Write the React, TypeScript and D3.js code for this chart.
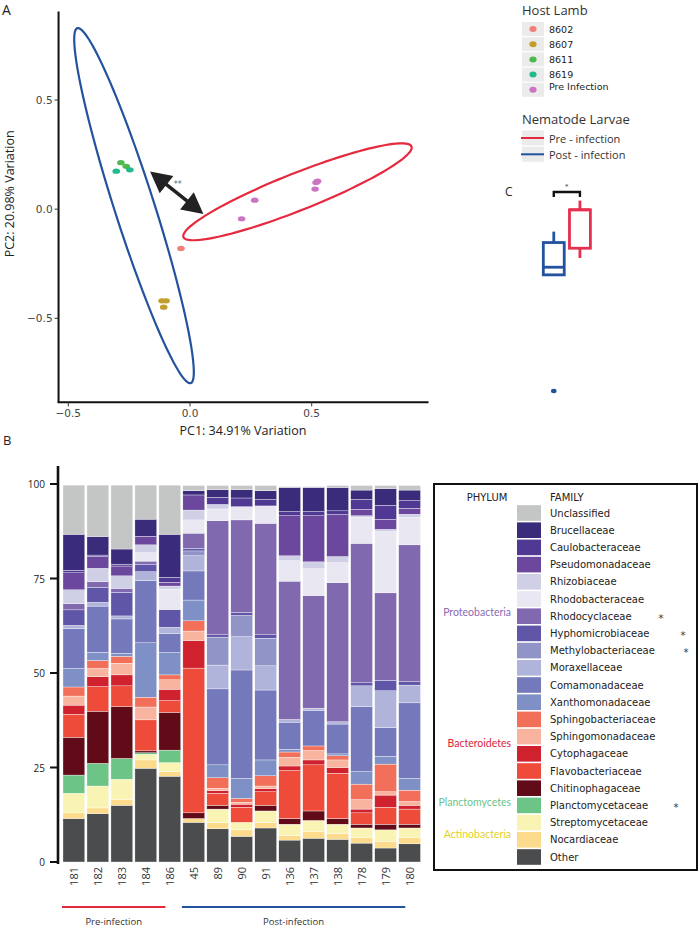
import React from "react";
import * as d3 from "d3";

const W = 698;
const H = 932;
const SANS = "'Open Sans', 'Noto Sans', sans-serif";
const VERD = "'DejaVu Sans', sans-serif";
const NARROW = "Lato, 'Open Sans', sans-serif";

// ---------- Panel A: PCA ----------
const hostLambs = ["8602", "8607", "8611", "8619", "Pre Infection"];
const hostColors = ["#f27f78", "#c39d2e", "#4db94c", "#22b98c", "#cc73c1"];
const pcaHost = ["8602", "8607", "8607", "8607", "8611", "8611", "8619", "8619", "Pre Infection", "Pre Infection", "Pre Infection", "Pre Infection", "Pre Infection"];
const pcaPC1 = [-0.037, -0.115, -0.098, -0.108, -0.284, -0.262, -0.303, -0.247, 0.212, 0.266, 0.514, 0.518, 0.524];
const pcaPC2 = [-0.18, -0.42, -0.42, -0.449, 0.213, 0.196, 0.174, 0.18, -0.044, 0.041, 0.092, 0.122, 0.128];
const pcaXTicks = [-0.5, 0, 0.5];
const pcaYTicks = [-0.5, 0, 0.5];
const pcaXDomain = [-0.54, 0.98];
const pcaYDomain = [-0.885, 0.905];

const larvaeGroups = ["Pre - infection", "Post - infection"];
const larvaeColors = ["#e5293f", "#23529f"];
const ellipseCenterX = [0.4415, -0.23];
const ellipseCenterY = [0.0795, 0.016];
const ellipseMajorX = [0.4685, -0.233];
const ellipseMajorY = [0.2075, 0.813];
const ellipseMinorX = [0.028, 0.078];
const ellipseMinorY = [-0.079, 0.028];
const arrowFrom = [-0.164, 0.172];
const arrowTo = [0.055, -0.022];

// ---------- Panel C: boxplot ----------
const boxGroups = ["Post - infection", "Pre - infection"];
const boxColors = ["#23529f", "#e5304f"];
const boxWhiskerHi = [-0.103, 0.039];
const boxQ3 = [-0.153, -0.003];
const boxMedian = [-0.266, -0.003];
const boxQ1 = [-0.301, -0.179];
const boxWhiskerLo = [-0.301, -0.224];
const boxOutliers = [-0.833, null];

// ---------- Panel B: stacked bars ----------
const samples = ["181", "182", "183", "184", "186", "45", "89", "90", "91", "136", "137", "138", "178", "179", "180"];
const sampleGroups = ["Pre-infection", "Post-infection"];
const groupColors = ["#e5293f", "#23529f"];
const groupFirst = ["181", "45"];
const groupLast = ["186", "180"];
const barTicks = [0, 25, 50, 75, 100];

const unclassified = [13.0, 13.6, 16.9, 9.0, 13.0, 1.4, 1.1, 1.1, 1.4, 0.2, 0.2, 0.5, 1.2, 0.8, 1.2];
const brucellaceae = [9.5, 4.9, 4.0, 4.5, 11.4, 1.1, 2.0, 2.2, 2.3, 6.4, 6.4, 6.2, 2.5, 4.4, 2.8];
const caulobacteraceae = [0.7, 0.4, 0.5, 0, 1.3, 0, 1.9, 2.3, 1.7, 1.1, 1.1, 1.0, 2.6, 3.7, 2.0];
const pseudomonadaceae = [4.5, 3.1, 2.6, 2.3, 1.0, 4.0, 0, 0, 0, 10.6, 12.2, 11.1, 1.7, 2.7, 1.6];
const rhizobiaceae = [3.7, 3.5, 3.3, 2.1, 0.8, 2.6, 1.2, 0, 0, 1.3, 1.8, 1.6, 0.4, 0.6, 0.8];
const rhodobacteraceae = [0, 0, 0, 2.2, 5.4, 3.5, 3.1, 3.5, 4.6, 5.4, 7.1, 5.3, 6.9, 16.2, 7.3];
const rhodocyclaceae = [1.6, 1.5, 1.1, 0.8, 0, 4.0, 30.2, 24.5, 29.5, 36.6, 29.8, 36.8, 36.9, 23.1, 36.2];
const hyphomicrobiaceae = [4.1, 4.0, 6.2, 2.0, 4.7, 0.7, 0.6, 0.8, 0.9, 0, 0, 0, 0.8, 2.8, 0.9];
const methylobacteriaceae = [0, 0, 0, 0, 0, 1.3, 7.4, 5.6, 7.3, 0, 0, 0, 0, 0, 0];
const moraxellaceae = [0.9, 1.0, 0.8, 2.4, 1.6, 4.0, 6.3, 8.8, 6.4, 0.7, 0.7, 0.6, 5.5, 9.7, 4.7];
const comamonadaceae = [10.5, 12.2, 9.1, 16.4, 5.1, 7.7, 20.1, 28.7, 18.5, 7.2, 9.3, 7.9, 17.2, 7.6, 20.0];
const xanthomonadaceae = [4.9, 2.2, 0.8, 14.4, 5.9, 5.5, 3.4, 5.3, 4.2, 0.7, 0, 0.5, 3.3, 2.1, 3.1];
const sphingobacteriaceae = [2.4, 2.1, 1.8, 2.6, 1.3, 2.7, 2.8, 1.0, 2.7, 1.4, 1.2, 1.1, 4.1, 7.3, 3.0];
const sphingomonadaceae = [2.4, 2.2, 3.1, 3.4, 2.5, 2.5, 0.6, 0.5, 0.7, 2.3, 2.5, 2.0, 2.5, 0.9, 1.0];
const cytophagaceae = [2.4, 2.6, 2.9, 0, 3.0, 7.3, 0.7, 0.8, 0.8, 1.2, 1.3, 1.5, 1.0, 3.2, 1.0];
const flavobacteriaceae = [6.1, 6.5, 5.5, 8.2, 3.1, 38.3, 3.2, 4.0, 3.6, 12.7, 12.2, 12.0, 3.0, 4.5, 4.0];
const chitinophagaceae = [10.0, 13.8, 13.7, 0.5, 10.0, 1.5, 1.0, 0, 1.5, 1.5, 2.5, 1.5, 1.0, 1.5, 1.0];
const planctomycetaceae = [4.8, 6.0, 5.5, 0.4, 3.3, 0, 0, 0, 0, 0, 0, 0, 0, 0, 0];
const streptomycetaceae = [5.2, 5.8, 5.4, 1.5, 2.4, 0, 3.5, 2.0, 3.0, 3.0, 3.0, 2.5, 2.5, 3.0, 2.5];
const nocardiaceae = [1.5, 1.5, 1.5, 2.2, 1.2, 1.0, 1.7, 1.7, 1.5, 1.2, 1.7, 1.5, 1.5, 1.8, 1.7];
const other = [11.5, 12.8, 15.0, 24.8, 22.7, 10.5, 8.8, 6.8, 9.0, 5.8, 6.3, 6.0, 5.0, 3.7, 4.8];

// legend order (top to bottom)
const familyNames = [
  "Unclassified", "Brucellaceae", "Caulobacteraceae", "Pseudomonadaceae", "Rhizobiaceae",
  "Rhodobacteraceae", "Rhodocyclaceae", "Hyphomicrobiaceae", "Methylobacteriaceae", "Moraxellaceae",
  "Comamonadaceae", "Xanthomonadaceae", "Sphingobacteriaceae", "Sphingomonadaceae", "Cytophagaceae",
  "Flavobacteriaceae", "Chitinophagaceae", "Planctomycetaceae", "Streptomycetaceae", "Nocardiaceae", "Other",
];
const familyValues = [
  unclassified, brucellaceae, caulobacteraceae, pseudomonadaceae, rhizobiaceae,
  rhodobacteraceae, rhodocyclaceae, hyphomicrobiaceae, methylobacteriaceae, moraxellaceae,
  comamonadaceae, xanthomonadaceae, sphingobacteriaceae, sphingomonadaceae, cytophagaceae,
  flavobacteriaceae, chitinophagaceae, planctomycetaceae, streptomycetaceae, nocardiaceae, other,
];
const familyColors = [
  "#c4c5c5", "#3b2b7b", "#4f3993", "#6b479e", "#cfd0e6",
  "#e9e7f1", "#8169b0", "#5f56a8", "#9194c7", "#b0b4da",
  "#7479bb", "#7e90c5", "#f2705a", "#f9b4a0", "#d0212f",
  "#ee4b3a", "#610a18", "#6dc487", "#faf4b4", "#fcdc8c", "#4a4c4d",
];
const significantFamilies = ["Rhodocyclaceae", "Hyphomicrobiaceae", "Methylobacteriaceae", "Planctomycetaceae"];
const phylumNames = ["Proteobacteria", "Bacteroidetes", "Planctomycetes", "Actinobacteria"];
const phylumColors = ["#8b6cb5", "#d7243a", "#6dc388", "#e3d21f"];

export default function App() {
  // ---- PCA scales
  const xPca = d3.scaleLinear().domain([-0.5, 0.5]).range([68.3, 311.7]);
  const yPca = d3.scaleLinear().domain([-0.5, 0.5]).range([318.3, 100]);
  const hostColor = d3.scaleOrdinal<string, string>().domain(hostLambs).range(hostColors);

  const ellipsePath = (i: number) => {
    const pts = d3.range(0, 120).map((k) => {
      const t = (k / 120) * 2 * Math.PI;
      return [
        ellipseCenterX[i] + ellipseMajorX[i] * Math.cos(t) + ellipseMinorX[i] * Math.sin(t),
        ellipseCenterY[i] + ellipseMajorY[i] * Math.cos(t) + ellipseMinorY[i] * Math.sin(t),
      ] as [number, number];
    });
    return d3.line<[number, number]>().x((d) => xPca(d[0])).y((d) => yPca(d[1])).curve(d3.curveLinearClosed)(pts) || "";
  };

  // arrow
  const ax1 = xPca(arrowFrom[0]), ay1 = yPca(arrowFrom[1]);
  const ax2 = xPca(arrowTo[0]), ay2 = yPca(arrowTo[1]);
  const len = Math.hypot(ax2 - ax1, ay2 - ay1);
  const ux = (ax2 - ax1) / len, uy = (ay2 - ay1) / len;
  const px = -uy, py = ux;
  const HL = 21, HW = 11;
  const head = (tx: number, ty: number, dx: number, dy: number) =>
    `M${tx},${ty} L${tx - dx * HL + px * HW},${ty - dy * HL + py * HW} L${tx - dx * HL - px * HW},${ty - dy * HL - py * HW} Z`;

  // ---- Boxplot scales
  const xBox = d3.scaleBand().domain(boxGroups).range([540.7, 593]).paddingInner(0.2).paddingOuter(0.1);

  // ---- Bars
  const xBar = d3.scaleBand().domain(samples).range([62.5, 421]).paddingInner(0.09).paddingOuter(0.02);
  const yBar = d3.scaleLinear().domain([0, 100]).range([862, 484]);
  const stackKeys = familyNames.slice().reverse();
  const table = samples.map((s, i) => {
    const row: any = { sample: s };
    familyNames.forEach((f, j) => (row[f] = familyValues[j][i]));
    return row;
  });
  const series = d3.stack().keys(stackKeys)(table);
  const famColor = d3.scaleOrdinal<string, string>().domain(familyNames).range(familyColors);

  // legend rows
  const rowY = (i: number) => 513 + i * 17.2;
  const starX: Record<string, number> = {
    Rhodocyclaceae: 661,
    Hyphomicrobiaceae: 683,
    Methylobacteriaceae: 686,
    Planctomycetaceae: 676,
  };
  const phylumY = [rowY(6) - 4, (rowY(13) + rowY(14)) / 2 - 2, rowY(17) - 3, (rowY(18) + rowY(19)) / 2 + 3];

  return (
    <svg width={W} height={H} style={{ position: "absolute", left: 0, top: 0, background: "#fff" }}>
      {/* ===== Panel A ===== */}
      <text x={2} y={9} fontFamily={SANS} fontSize={14} dominantBaseline="central" fill="#222">A</text>
      {larvaeGroups.map((g, i) => (
        <path key={g} d={ellipsePath(i)} fill="none" stroke={larvaeColors[i]} strokeWidth={2.2} />
      ))}
      {pcaPC1.map((v, i) => (
        <ellipse key={i} cx={xPca(v)} cy={yPca(pcaPC2[i])} rx={3.8} ry={2.6} fill={hostColor(pcaHost[i])} />
      ))}
      <line x1={ax1 + ux * (HL - 2)} y1={ay1 + uy * (HL - 2)} x2={ax2 - ux * (HL - 2)} y2={ay2 - uy * (HL - 2)} stroke="#222" strokeWidth={3.5} />
      <path d={head(ax1, ay1, -ux, -uy)} fill="#222" />
      <path d={head(ax2, ay2, ux, uy)} fill="#222" />
      <text x={(ax1 + ax2) / 2 + 1} y={(ay1 + ay2) / 2 - 6} fontFamily={VERD} fontSize={8} textAnchor="middle" fill="#666">**</text>

      {/* axes */}
      <line x1={xPca(pcaXDomain[0])} y1={yPca(pcaYDomain[1])} x2={xPca(pcaXDomain[0])} y2={yPca(pcaYDomain[0])} stroke="#111" strokeWidth={2} />
      <line x1={xPca(pcaXDomain[0]) - 1} y1={yPca(pcaYDomain[0])} x2={xPca(pcaXDomain[1])} y2={yPca(pcaYDomain[0])} stroke="#111" strokeWidth={2} />
      {pcaXTicks.map((t) => (
        <g key={"xt" + t}>
          <line x1={xPca(t)} x2={xPca(t)} y1={yPca(pcaYDomain[0])} y2={yPca(pcaYDomain[0]) + 4} stroke="#333" strokeWidth={1} />
          <text x={xPca(t)} y={yPca(pcaYDomain[0]) + 11} fontFamily={VERD} fontSize={10.5} textAnchor="middle" dominantBaseline="central" fill="#444">
            {t === 0 ? "0.0" : d3.format(".1f")(t).replace("-", "\u2212")}
          </text>
        </g>
      ))}
      {pcaYTicks.map((t) => (
        <g key={"yt" + t}>
          <line x1={xPca(pcaXDomain[0]) - 4} x2={xPca(pcaXDomain[0])} y1={yPca(t)} y2={yPca(t)} stroke="#333" strokeWidth={1} />
          <text x={xPca(pcaXDomain[0]) - 6} y={yPca(t)} fontFamily={VERD} fontSize={10.5} textAnchor="end" dominantBaseline="central" fill="#444">
            {t === 0 ? "0.0" : d3.format(".1f")(t).replace("-", "\u2212")}
          </text>
        </g>
      ))}
      <text x={243} y={430} fontFamily={SANS} fontSize={12.5} textAnchor="middle" dominantBaseline="central" fill="#222">PC1: 34.91% Variation</text>
      <text transform={`translate(9,${yPca(0.07)}) rotate(-90)`} fontFamily={SANS} fontSize={12.5} textAnchor="middle" dominantBaseline="central" fill="#222">PC2: 20.98% Variation</text>

      {/* legend top right */}
      <text x={522} y={10} fontFamily={SANS} fontSize={13} dominantBaseline="central" fill="#333">Host Lamb</text>
      {hostLambs.map((h, i) => (
        <g key={h}>
          <rect x={522} y={29 + i * 15.2 - 7} width={22} height={14} fill="#ebebeb" />
          <ellipse cx={533} cy={29 + i * 15.2} rx={3.6} ry={3} fill={hostColors[i]} />
          <text x={549} y={29 + i * 15.2 - (i === 4 ? 3 : 0)} fontFamily={VERD} fontSize={9.5} dominantBaseline="central" fill="#222">{h}</text>
        </g>
      ))}
      <text x={522} y={119} fontFamily={SANS} fontSize={13} dominantBaseline="central" fill="#333">Nematode Larvae</text>
      {larvaeGroups.map((g, i) => (
        <g key={g}>
          <rect x={522} y={138 + i * 16.3 - 7.5} width={22} height={15} fill="#ebebeb" />
          <line x1={521} x2={544} y1={138 + i * 16.3} y2={138 + i * 16.3} stroke={larvaeColors[i]} strokeWidth={2} />
          <text x={549} y={138 + i * 16.3} fontFamily={SANS} fontSize={11} dominantBaseline="central" fill="#333">{g}</text>
        </g>
      ))}

      {/* ===== Panel C ===== */}
      <text x={505} y={191} fontFamily={SANS} fontSize={12} dominantBaseline="central" fill="#222">C</text>
      {boxGroups.map((g, i) => {
        const x0 = xBox(g) as number;
        const bw = xBox.bandwidth();
        const cx = x0 + bw / 2;
        return (
          <g key={g} stroke={boxColors[i]} strokeWidth={2.8} fill="none">
            <line x1={cx} x2={cx} y1={yPca(boxWhiskerHi[i])} y2={yPca(boxQ3[i])} />
            <line x1={cx} x2={cx} y1={yPca(boxQ1[i])} y2={yPca(boxWhiskerLo[i])} />
            <rect x={x0} y={yPca(boxQ3[i])} width={bw} height={yPca(boxQ1[i]) - yPca(boxQ3[i])} fill="#fff" />
            <line x1={x0} x2={x0 + bw} y1={yPca(boxMedian[i])} y2={yPca(boxMedian[i])} />
            {boxOutliers[i] !== null && (
              <ellipse cx={cx} cy={yPca(boxOutliers[i] as number)} rx={2.8} ry={2.2} fill={boxColors[i]} stroke="none" />
            )}
          </g>
        );
      })}
      {(() => {
        const c0 = (xBox(boxGroups[0]) as number) + xBox.bandwidth() / 2;
        const c1 = (xBox(boxGroups[1]) as number) + xBox.bandwidth() / 2;
        return (
          <g>
            <path d={`M${c0},197 L${c0},192 L${c1},192 L${c1},197`} fill="none" stroke="#111" strokeWidth={2.4} />
            <text x={(c0 + c1) / 2} y={189} fontFamily={VERD} fontSize={7} textAnchor="middle" fill="#444">*</text>
          </g>
        );
      })()}

      {/* ===== Panel B ===== */}
      <text x={3} y={440} fontFamily={SANS} fontSize={13} dominantBaseline="central" fill="#222">B</text>
      {series.map((s) => (
        <g key={s.key} fill={famColor(s.key)}>
          {s.map((d, i) => {
            const h = yBar(d[0]) - yBar(d[1]);
            if (h <= 0) return null;
            return (
              <rect key={i} x={xBar(samples[i])} y={yBar(d[1])} width={xBar.bandwidth()} height={h} stroke="#fff" strokeWidth={0.35} />
            );
          })}
        </g>
      ))}
      <line x1={58} x2={58} y1={466} y2={864} stroke="#111" strokeWidth={2.6} />
      {barTicks.map((t) => (
        <g key={"bt" + t}>
          <line x1={50} x2={58} y1={yBar(t)} y2={yBar(t)} stroke="#111" strokeWidth={2} />
          <text x={45} y={yBar(t)} fontFamily={SANS} fontSize={10} textAnchor="end" dominantBaseline="central" fill="#222">{t}</text>
        </g>
      ))}
      {samples.map((s) => (
        <text key={"lab" + s} transform={`translate(${(xBar(s) as number) + xBar.bandwidth() / 2},867) rotate(-90)`} fontFamily={SANS} fontSize={11} textAnchor="end" dominantBaseline="central" fill="#333">{s}</text>
      ))}
      {sampleGroups.map((g, i) => {
        const x1 = (xBar(groupFirst[i]) as number) - 1;
        const x2 = (xBar(groupLast[i]) as number) + xBar.bandwidth() * 0.3;
        return (
          <g key={g}>
            <line x1={x1} x2={x2} y1={907} y2={907} stroke={groupColors[i]} strokeWidth={2} />
            <text x={(x1 + x2) / 2} y={921} fontFamily={SANS} fontSize={9.5} textAnchor="middle" dominantBaseline="central" fill="#333">{g}</text>
          </g>
        );
      })}

      {/* legend box */}
      <rect x={434} y={484} width={263} height={386} fill="none" stroke="#111" strokeWidth={2} />
      <text x={487} y={497} fontFamily={VERD} fontSize={10} textAnchor="middle" dominantBaseline="central" fill="#222">PHYLUM</text>
      <text x={550} y={497} fontFamily={VERD} fontSize={10} dominantBaseline="central" fill="#222">FAMILY</text>
      {familyNames.map((f, i) => (
        <g key={"lg" + f}>
          <rect x={517} y={rowY(i) - 7.8} width={24} height={15.6} fill={familyColors[i]} />
          <text x={550} y={rowY(i)} fontFamily={VERD} fontSize={10} dominantBaseline="central" fill="#222">{f}</text>
          {significantFamilies.includes(f) && (
            <text x={starX[f]} y={rowY(i) + 2} fontFamily={VERD} fontSize={10} textAnchor="middle" dominantBaseline="central" fill="#333">*</text>
          )}
        </g>
      ))}
      {phylumNames.map((p, i) => (
        <text key={p} x={511} y={phylumY[i]} fontFamily={NARROW} fontSize={10.5} textAnchor="end" dominantBaseline="central" fill={phylumColors[i]}>{p}</text>
      ))}
    </svg>
  );
}
